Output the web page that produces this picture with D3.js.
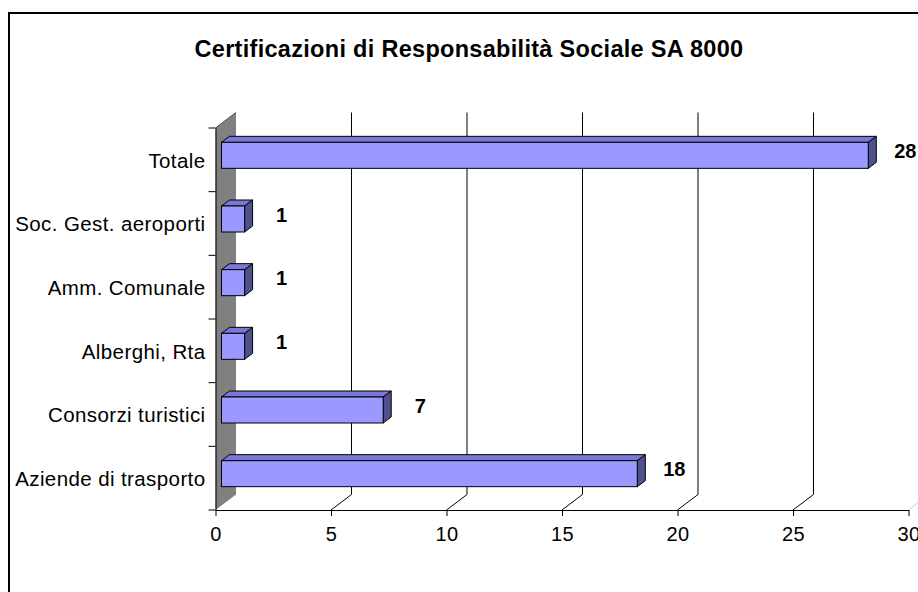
<!DOCTYPE html>
<html lang="it">
<head>
<meta charset="UTF-8">
<title>Certificazioni SA 8000</title>
<script src="https://d3js.org/d3.v7.min.js"></script>
<style>
  body { margin: 0; background: white; }
  svg { display: block; font-family: "Liberation Sans", Arial, sans-serif; }
  .cat text { font-size: 20.5px; letter-spacing: 0.4px; fill: #000; }
  .xaxis text { font-size: 20px; letter-spacing: 0.3px; fill: #000; }
  .val { font-size: 20px; font-weight: bold; }
  .title { font-size: 23.5px; font-weight: bold; letter-spacing: 0.3px; }
</style>
</head>
<body>
<svg width="918" height="592"></svg>
<script>
const categories = ["Totale", "Soc. Gest. aeroporti", "Amm. Comunale", "Alberghi, Rta", "Consorzi turistici", "Aziende di trasporto"];
const values = [28, 1, 1, 1, 7, 18];
const xTicks = [0, 5, 10, 15, 20, 25, 30];

const svg = d3.select("svg");

// outer frame (cut off at right/bottom like the original)
svg.append("rect")
    .attr("x", 9).attr("y", 13)
    .attr("width", 1000).attr("height", 1000)
    .attr("fill", "white").attr("stroke", "#000").attr("stroke-width", 2);

svg.append("text")
    .attr("class", "title")
    .attr("x", 469).attr("y", 57)
    .attr("text-anchor", "middle")
    .text("Certificazioni di Responsabilità Sociale SA 8000");

const x = d3.scaleLinear().domain([0, 30]).range([215.5, 908.5]);
const y = d3.scaleBand().domain(categories).range([128, 510]);

// depth of the plot box and of the bars
const dx = 20.5, dy = -15.5;
const bx = 8, by = -6;
const plotTop = y.range()[0], plotBottom = y.range()[1];

// grey side wall
svg.append("polygon")
    .attr("points", [[x(0), plotTop], [x(0) + dx, plotTop + dy], [x(0) + dx, plotBottom + dy], [x(0), plotBottom]].join(" "))
    .attr("fill", "#808080");
svg.append("line")
    .attr("x1", x(0)).attr("y1", plotTop).attr("x2", x(0) + dx).attr("y2", plotTop + dy)
    .attr("stroke", "#444").attr("stroke-width", 1);

// gridlines on the back plane + floor diagonals
const grid = svg.append("g");
xTicks.filter(t => t > 0).forEach(t => {
    grid.append("line")
        .attr("x1", x(t) + dx).attr("x2", x(t) + dx)
        .attr("y1", plotTop + dy).attr("y2", plotBottom + dy)
        .attr("stroke", "#000").attr("stroke-width", 1);
    grid.append("line")
        .attr("x1", x(t)).attr("y1", plotBottom)
        .attr("x2", x(t) + dx).attr("y2", plotBottom + dy)
        .attr("stroke", t === 30 ? "#ccc" : "#000").attr("stroke-width", 1);
});

// bottom axis
const xAxis = svg.append("g")
    .attr("class", "xaxis")
    .attr("transform", `translate(0,${plotBottom})`)
    .call(d3.axisBottom(x).tickValues(xTicks).tickSize(6).tickSizeOuter(0).tickPadding(11));
xAxis.selectAll("line, path").attr("stroke", "#000");

// left axis: labels at band centres, ticks at band boundaries
const yAxis = svg.append("g")
    .attr("class", "cat")
    .attr("transform", `translate(${x(0)},0)`)
    .call(d3.axisLeft(y).tickSize(0).tickSizeOuter(0).tickPadding(10));
yAxis.select(".domain").attr("stroke", "#000");
yAxis.selectAll("text").attr("dy", "0.38em");
const bounds = categories.map(c => y(c)).concat([plotBottom]);
yAxis.selectAll(".btick")
    .data(bounds)
    .enter().append("line")
    .attr("x1", -7).attr("x2", 0)
    .attr("y1", d => d).attr("y2", d => d)
    .attr("stroke", "#000");

// 3D bars
const barH = 26, lift = -4.5, gap = 6;
const bars = svg.append("g")
    .selectAll("g")
    .data(categories.map((c, i) => ({ cat: c, v: values[i] })))
    .enter().append("g");

const faceTop = d => y(d.cat) + y.bandwidth() / 2 + lift - barH / 2;
const x0 = x(0) + gap;
const x1 = d => x(d.v) + gap;

bars.append("polygon")
    .attr("points", d => [[x0, faceTop(d)], [x0 + bx, faceTop(d) + by], [x1(d) + bx, faceTop(d) + by], [x1(d), faceTop(d)]].join(" "))
    .attr("fill", "#7878d6").attr("stroke", "#000").attr("stroke-width", 1);
bars.append("polygon")
    .attr("points", d => [[x1(d), faceTop(d)], [x1(d) + bx, faceTop(d) + by], [x1(d) + bx, faceTop(d) + by + barH], [x1(d), faceTop(d) + barH]].join(" "))
    .attr("fill", "#50508f").attr("stroke", "#000").attr("stroke-width", 1);
bars.append("rect")
    .attr("x", x0).attr("y", faceTop)
    .attr("width", d => x1(d) - x0).attr("height", barH)
    .attr("fill", "#9999ff").attr("stroke", "#000").attr("stroke-width", 1);

bars.append("text")
    .attr("class", "val")
    .attr("x", d => x1(d) + 37)
    .attr("y", d => y(d.cat) + y.bandwidth() / 2 - 9)
    .attr("dy", "0.36em")
    .attr("text-anchor", "middle")
    .text(d => d.v);
</script>
</body>
</html>
